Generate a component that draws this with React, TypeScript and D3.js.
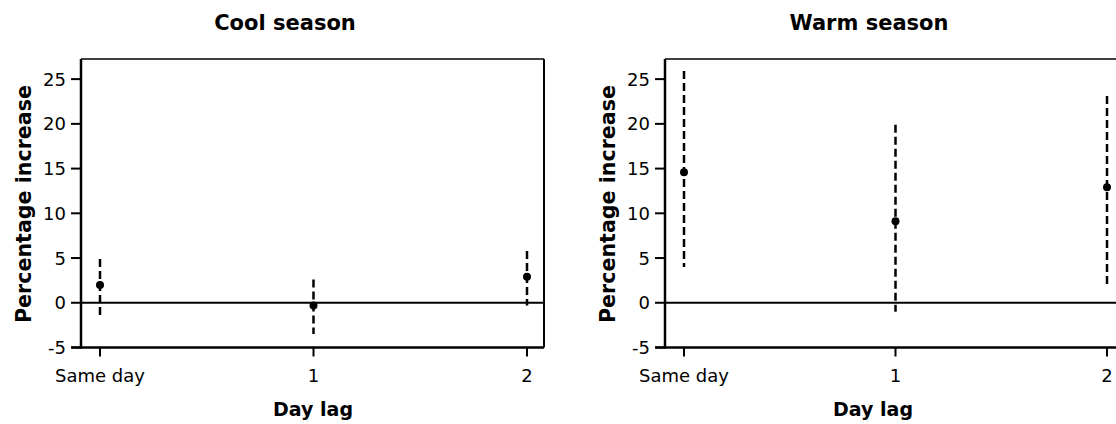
import React from "react";
import * as d3 from "d3";

const categories = ["Same day", "1", "2"];
const yTicks = [-5, 0, 5, 10, 15, 20, 25];

const coolEstimate = [2.0, -0.3, 2.9];
const coolLower = [-1.4, -3.5, -0.3];
const coolUpper = [4.9, 2.6, 5.8];

const warmEstimate = [14.6, 9.1, 12.9];
const warmLower = [4.0, -1.0, 2.1];
const warmUpper = [25.9, 19.9, 23.1];

const panelTitles = ["Cool season", "Warm season"];
const xAxisTitle = "Day lag";
const yAxisTitle = "Percentage increase";

const W = 1116;
const H = 424;
const FONT = "'DejaVu Sans', Verdana, sans-serif";

type PanelProps = {
  left: number;
  span: number;
  title: string;
  est: number[];
  lo: number[];
  hi: number[];
  xLabelX: number;
};

function Panel({ left, span, title, est, lo, hi, xLabelX }: PanelProps) {
  const boxLeft = left;
  const x = d3.scalePoint<string>().domain(categories).range([boxLeft + 19, boxLeft + 19 + span]);
  const boxRight = boxLeft + 19 + span + 17;
  const y = d3.scaleLinear().domain([-5, 27.25]).range([347.5, 59]);
  const top = y(27.25);
  const bottom = y(-5);
  return (
    <g>
      <text x={boxLeft + 204} y={30} textAnchor="middle" fontFamily={FONT} fontWeight="bold" fontSize={21}>
        {title}
      </text>
      <line x1={boxLeft} x2={boxRight} y1={top} y2={top} stroke="#000" strokeWidth={1.5} />
      <line x1={boxRight} x2={boxRight} y1={top} y2={bottom} stroke="#000" strokeWidth={2} />
      <line x1={boxLeft} x2={boxLeft} y1={top} y2={bottom + 1} stroke="#000" strokeWidth={2.5} />
      <line x1={boxLeft - 10} x2={boxRight} y1={bottom} y2={bottom} stroke="#000" strokeWidth={2.5} />
      <line x1={boxLeft} x2={boxRight} y1={y(0)} y2={y(0)} stroke="#000" strokeWidth={2} />
      {yTicks.map((t) => (
        <g key={t}>
          <line x1={boxLeft - 10} x2={boxLeft} y1={y(t)} y2={y(t)} stroke="#000" strokeWidth={2} />
          <text x={boxLeft - 15} y={y(t) + 6.5} textAnchor="end" fontFamily={FONT} fontSize={18}>
            {t}
          </text>
        </g>
      ))}
      {categories.map((c) => (
        <g key={c}>
          <line x1={x(c)} x2={x(c)} y1={bottom} y2={bottom + 9} stroke="#000" strokeWidth={2} />
          <text x={x(c)} y={382} textAnchor="middle" fontFamily={FONT} fontSize={18}>
            {c}
          </text>
        </g>
      ))}
      <text x={xLabelX} y={416} textAnchor="middle" fontFamily={FONT} fontWeight="bold" fontSize={20}
        textLength={80} lengthAdjust="spacingAndGlyphs">
        {xAxisTitle}
      </text>
      <text transform={`translate(${boxLeft - 50},204) rotate(-90)`} textAnchor="middle" fontFamily={FONT}
        fontWeight="bold" fontSize={20.5} textLength={238} lengthAdjust="spacingAndGlyphs">
        {yAxisTitle}
      </text>
      {categories.map((c, i) => (
        <g key={"e" + c}>
          <line x1={x(c)} x2={x(c)} y1={y(hi[i])} y2={y(lo[i])} stroke="#000" strokeWidth={2.5}
            strokeDasharray="8,4" />
          <circle cx={x(c)} cy={y(est[i])} r={4} fill="#000" />
        </g>
      ))}
    </g>
  );
}

export default function App() {
  return (
    <svg width={W} height={H} style={{ position: "absolute", left: 0, top: 0, background: "#fff" }}>
      <rect width={W} height={H} fill="#fff" />
      <Panel left={81} span={427} title={panelTitles[0]} est={coolEstimate} lo={coolLower} hi={coolUpper} xLabelX={313} />
      <Panel left={665} span={423} title={panelTitles[1]} est={warmEstimate} lo={warmLower} hi={warmUpper} xLabelX={873} />
    </svg>
  );
}
